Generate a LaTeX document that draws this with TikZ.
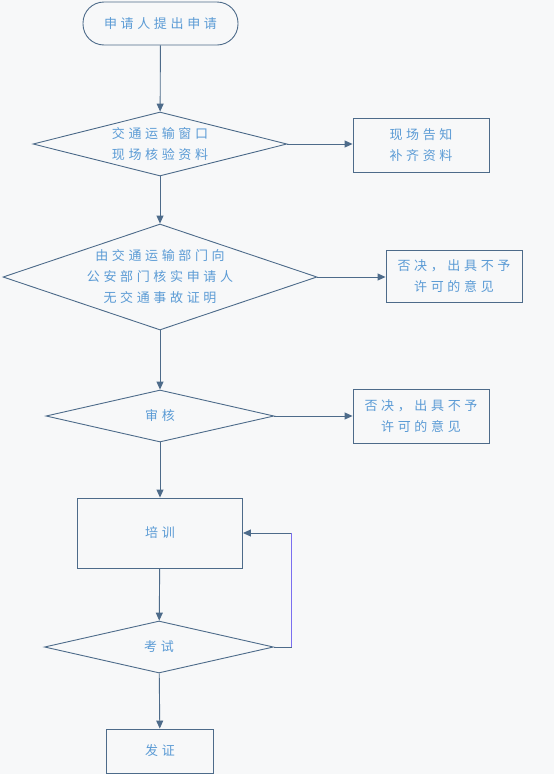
\documentclass[tikz,border=0pt]{standalone}
\usepackage{fontspec}
\newfontfamily\cjk[LetterSpace=28]{Noto Sans CJK SC}
\usetikzlibrary{shapes.geometric,arrows.meta}
\definecolor{bgc}{HTML}{F7F8F9}
\definecolor{linec}{HTML}{4D6B8A}
\definecolor{textc}{HTML}{5B9BD5}
\definecolor{loopc}{HTML}{7B6FF0}
\tikzset{
  base/.style={draw=linec, line width=0.9pt, text=textc, font=\cjk\fontsize{13}{21}\selectfont, align=center, inner sep=0pt},
  term/.style={base, rounded corners=21pt},
  dec/.style={base, diamond, aspect=4},
  proc/.style={base, rectangle},
  label/.style={text=textc, font=\cjk\fontsize{13}{21}\selectfont, align=center, inner sep=0pt},
  flow/.style={draw=linec, line width=0.9pt, -{Triangle[length=8pt,width=7pt]}},
}
\begin{document}
\begin{tikzpicture}[x=1pt,y=-1pt]
\fill[bgc] (0,0) rectangle (554,774);
\useasboundingbox (0,0) rectangle (554,774);

\node[term, minimum width=155pt, minimum height=43pt] (start) at (160.5,23.5) {申请人提出申请};
\node[dec, minimum width=254pt, minimum height=64pt] (d1) at (160,144) {交通运输窗口\\现场核验资料};
\node[proc, minimum width=136pt, minimum height=54pt] (b1) at (421,145) {现场告知\\补齐资料};
\node[dec, minimum width=314pt, minimum height=106pt] (d2) at (160,277) {};
\node[label] (d2t) at (d2.center) {由交通运输部门向\\公安部门核实申请人\\无交通事故证明};
\node[proc, minimum width=136pt, minimum height=52pt] (b2) at (454,276) {否决，出具不予\\许可的意见};
\node[dec, minimum width=228pt, minimum height=52pt] (d3) at (160,416) {审核};
\node[proc, minimum width=136pt, minimum height=54pt] (b3) at (421,416) {否决，出具不予\\许可的意见};
\node[proc, minimum width=165pt, minimum height=70pt] (train) at (160,533) {培训};
\node[dec, minimum width=229pt, minimum height=52pt] (exam) at (159,647) {考试};
\node[proc, minimum width=107pt, minimum height=44pt] (cert) at (160,751) {发证};

\coordinate (lb) at (291,647);
\coordinate (lt) at (291,533);

\draw[flow] (start) -- (d1);
\draw[flow] (d1.east) -- (b1.west |- d1.east);
\draw[flow] (d1) -- (d2);
\draw[flow] (d2.east) -- (b2.west |- d2.east);
\draw[flow] (d2) -- (d3);
\draw[flow] (d3.east) -- (b3.west |- d3.east);
\draw[flow] (d3) -- (train);
\draw[flow] (train) -- (exam);
\draw[flow] (exam) -- (cert);
\draw[flow] (exam.east) -- (lb) -- (lt) -- (train.east);
\draw[draw=loopc, line width=0.9pt] (lb) -- (lt);
\end{tikzpicture}
\end{document}
